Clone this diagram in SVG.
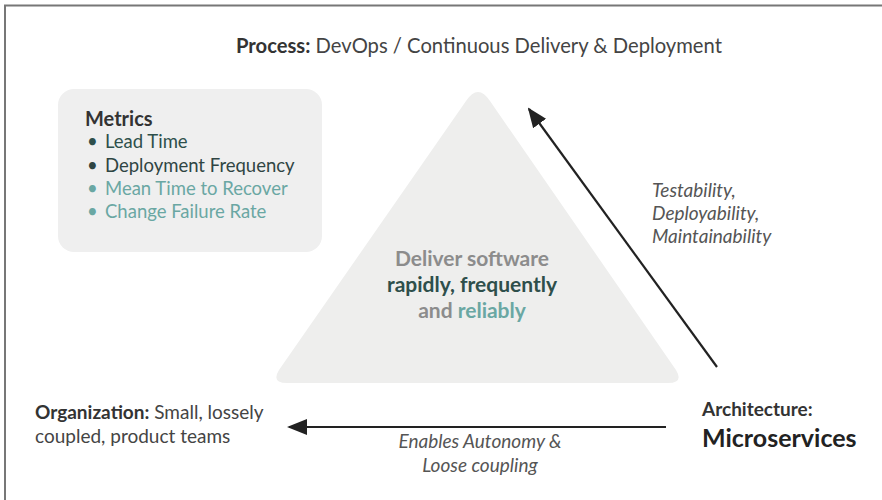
<svg xmlns="http://www.w3.org/2000/svg" width="882" height="500" viewBox="0 0 882 500">
  <style>
    text { font-family: Lato, "Open Sans", "Liberation Sans", sans-serif; }
    .lbl { font-size: 19px; fill: #444444; }
    .title { font-size: 20.2px; fill: #444444; }
    .b { font-weight: 700; fill: #333333; }
    .it { font-style: italic; font-size: 19px; fill: #555555; }
    .dark { fill: #2e4f4b; }
    .teal { fill: #6aa7a3; }
    .grey { fill: #8c8c8c; }
    .conn { stroke: #222222; stroke-width: 2.2; fill: none; marker-end: url(#head); }
  </style>
  <defs>
    <marker id="head" viewBox="0 0 10 10" refX="9" refY="5" markerWidth="20" markerHeight="20" markerUnits="userSpaceOnUse" orient="auto">
      <path d="M0,1 L10,5 L0,9 Z" fill="#222222"/>
    </marker>
  </defs>

  <!-- frame -->
  <path d="M5,500 V5.5 H882" fill="none" stroke="#777777" stroke-width="2"/>

  <!-- process label -->
  <g id="process">
    <text x="236" y="53" class="title"><tspan class="b">Process:</tspan> DevOps / Continuous Delivery &amp; Deployment</text>
  </g>

  <!-- metrics card -->
  <g id="metrics">
    <rect x="58" y="89" width="264" height="163" rx="16" fill="#efefef"/>
    <text x="85" y="126" font-size="20" font-weight="700" fill="#333333">Metrics</text>
    <g font-size="18.5">
      <text x="87" y="148" class="dark">•</text>
      <text x="105" y="148" class="dark">Lead Time</text>
      <text x="87" y="172" fill="#2f4543">•</text>
      <text x="105" y="172" fill="#2f4543">Deployment Frequency</text>
      <text x="87" y="195" class="teal">•</text>
      <text x="105" y="195" class="teal">Mean Time to Recover</text>
      <text x="87" y="218" class="teal">•</text>
      <text x="105" y="218" class="teal">Change Failure Rate</text>
    </g>
  </g>

  <!-- goal triangle -->
  <g id="goal">
    <path d="M478,92 Q484,92 490,101 L676,370 Q684,383 668,383 L287,383 Q271,383 279,370 L466,101 Q472,92 478,92 Z" fill="#eeeeed"/>
    <g font-size="21" font-weight="700" text-anchor="middle">
      <text x="472" y="266" class="grey">Deliver software</text>
      <text x="472" y="292" class="dark">rapidly, frequently</text>
      <text x="472" y="318"><tspan class="grey">and</tspan> <tspan class="teal">reliably</tspan></text>
    </g>
  </g>

  <!-- architecture -->
  <g id="architecture">
    <text x="702" y="416" font-size="19" font-weight="700" fill="#333333">Architecture:</text>
    <text x="702" y="447" font-size="25" font-weight="700" fill="#222222">Microservices</text>
  </g>

  <!-- organization -->
  <g id="organization">
    <text x="35" y="419" class="lbl"><tspan class="b">Organization:</tspan> Small, lossely</text>
    <text x="35" y="443" class="lbl">coupled, product teams</text>
  </g>

  <!-- connectors -->
  <g id="connectors">
    <path class="conn" d="M717,367 L529,109"/>
    <path class="conn" d="M666,427 L289,427"/>
    <text x="652" y="197" class="it">Testability,</text>
    <text x="652" y="220" class="it">Deployability,</text>
    <text x="652" y="243" class="it">Maintainability</text>
    <text x="480" y="448" class="it" text-anchor="middle">Enables Autonomy &amp;</text>
    <text x="480" y="472" class="it" text-anchor="middle">Loose coupling</text>
  </g>
</svg>
